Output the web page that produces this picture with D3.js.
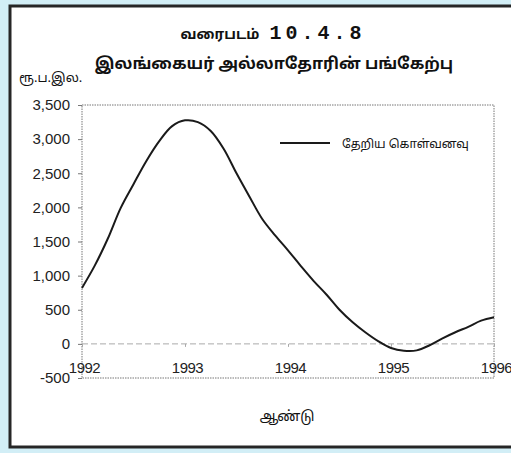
<!DOCTYPE html>
<html><head><meta charset="utf-8">
<script src="https://cdn.jsdelivr.net/npm/d3@7"></script>
<style>
html,body{margin:0;padding:0;background:#d2eef6;}
svg{display:block;}
</style></head>
<body>
<svg id="c" width="511" height="453"></svg>
<script>
const titleLine1 = "வரைபடம்";
const titleNum = "10.4.8";
const titleLine2 = "இலங்கையர் அல்லாதோரின் பங்கேற்பு";
const yUnit = "ரூ.ப.இல.";
const xTitle = "ஆண்டு";
const seriesName = "தேறிய கொள்வனவு";
const years = [1992, 1993, 1994, 1995, 1996];
const yTicks = [-500, 0, 500, 1000, 1500, 2000, 2500, 3000, 3500];
const times = [1992.0,1992.125,1992.25,1992.375,1992.5,1992.625,1992.75,1992.875,
  1993.0,1993.125,1993.25,1993.375,1993.5,1993.625,1993.75,1993.875,
  1994.0,1994.125,1994.25,1994.375,1994.5,1994.625,1994.75,1994.875,
  1995.0,1995.125,1995.25,1995.375,1995.5,1995.625,1995.75,1995.875,1996.0];
const values = [820,1150,1540,1990,2340,2680,2970,3190,
  3275,3250,3120,2860,2500,2160,1830,1590,
  1370,1140,920,720,500,320,170,40,
  -60,-100,-95,-20,80,170,250,340,390];

const svg = d3.select("#c");
// frame
svg.append("rect").attr("x",10).attr("y",6).attr("width",520).attr("height",441)
  .attr("fill","#fff").attr("stroke","#262626").attr("stroke-width",3);

const x = d3.scaleLinear().domain([1992,1996]).range([82,494]);
const y = d3.scaleLinear().domain([-500,3500]).range([378,105]);

// titles
const t1 = svg.append("text").attr("x",273).attr("y",39).attr("text-anchor","middle")
  .attr("font-weight","bold").attr("fill","#111");
t1.append("tspan").attr("font-family","Noto Sans Tamil, Noto Sans, sans-serif").attr("font-size",14).text(titleLine1);
t1.append("tspan").attr("font-family","Liberation Mono, DejaVu Sans Mono, monospace").attr("font-size",20)
  .attr("letter-spacing",4).attr("dx",10).text(titleNum);
svg.append("text").attr("x",274).attr("y",69).attr("text-anchor","middle")
  .attr("font-family","Noto Sans Tamil, Noto Sans, sans-serif").attr("font-weight","bold")
  .attr("font-size",16).attr("fill","#111").text(titleLine2);
svg.append("text").attr("x",19).attr("y",82)
  .attr("font-family","Noto Sans Tamil, Noto Sans, sans-serif").attr("font-size",13).attr("fill","#111").text(yUnit);

// plot border (dotted)
svg.append("rect").attr("x",x(1992)).attr("y",y(3500))
  .attr("width",x(1996)-x(1992)).attr("height",y(-500)-y(3500))
  .attr("fill","none").attr("stroke","#777").attr("stroke-width",1).attr("stroke-dasharray","1.5,1");

// zero line
svg.append("line").attr("x1",x(1992)).attr("x2",x(1996)).attr("y1",y(0)).attr("y2",y(0))
  .attr("stroke","#aaa").attr("stroke-width",1).attr("stroke-dasharray","6,3");

// y axis
const fmt = d3.format(",");
const yAxis = d3.axisLeft(y).tickValues(yTicks).tickSize(4).tickPadding(8)
  .tickFormat(d => d < 0 ? "-" + fmt(-d) : fmt(d));
const gy = svg.append("g").attr("transform",`translate(${x(1992)},0)`).call(yAxis);
gy.select(".domain").remove();
gy.selectAll("line").attr("stroke","#777");
gy.selectAll("text").attr("font-family","Liberation Sans, Arial, sans-serif").attr("font-size",15).attr("fill","#222");

// x axis labels (below zero line)
const xAxis = d3.axisBottom(x).tickValues(years).tickSize(3).tickPadding(15).tickFormat(d3.format("d"));
const gx = svg.append("g").attr("transform",`translate(0,${y(0)})`).call(xAxis);
gx.select(".domain").remove();
gx.selectAll("line").attr("stroke","#aaa");
gx.selectAll("text").attr("font-family","Liberation Sans, Arial, sans-serif").attr("font-size",15)
  .attr("fill","#222").attr("letter-spacing","-0.5").attr("dx",2);

// line
const line = d3.line().x((d,i)=>x(times[i])).y(d=>y(d)).curve(d3.curveCatmullRom.alpha(0.5));
svg.append("path").datum(values).attr("d",line).attr("fill","none")
  .attr("stroke","#1a1a1a").attr("stroke-width",2);

// legend
svg.append("line").attr("x1",280).attr("x2",330).attr("y1",143).attr("y2",143)
  .attr("stroke","#1a1a1a").attr("stroke-width",2);
svg.append("text").attr("x",342).attr("y",148)
  .attr("font-family","Noto Sans Tamil, Noto Sans, sans-serif").attr("font-size",12).attr("fill","#111").text(seriesName);

// x title
svg.append("text").attr("x",287).attr("y",421).attr("text-anchor","middle")
  .attr("font-family","Noto Sans Tamil, Noto Sans, sans-serif").attr("font-size",14).attr("fill","#111").text(xTitle);
</script>
</body></html>
